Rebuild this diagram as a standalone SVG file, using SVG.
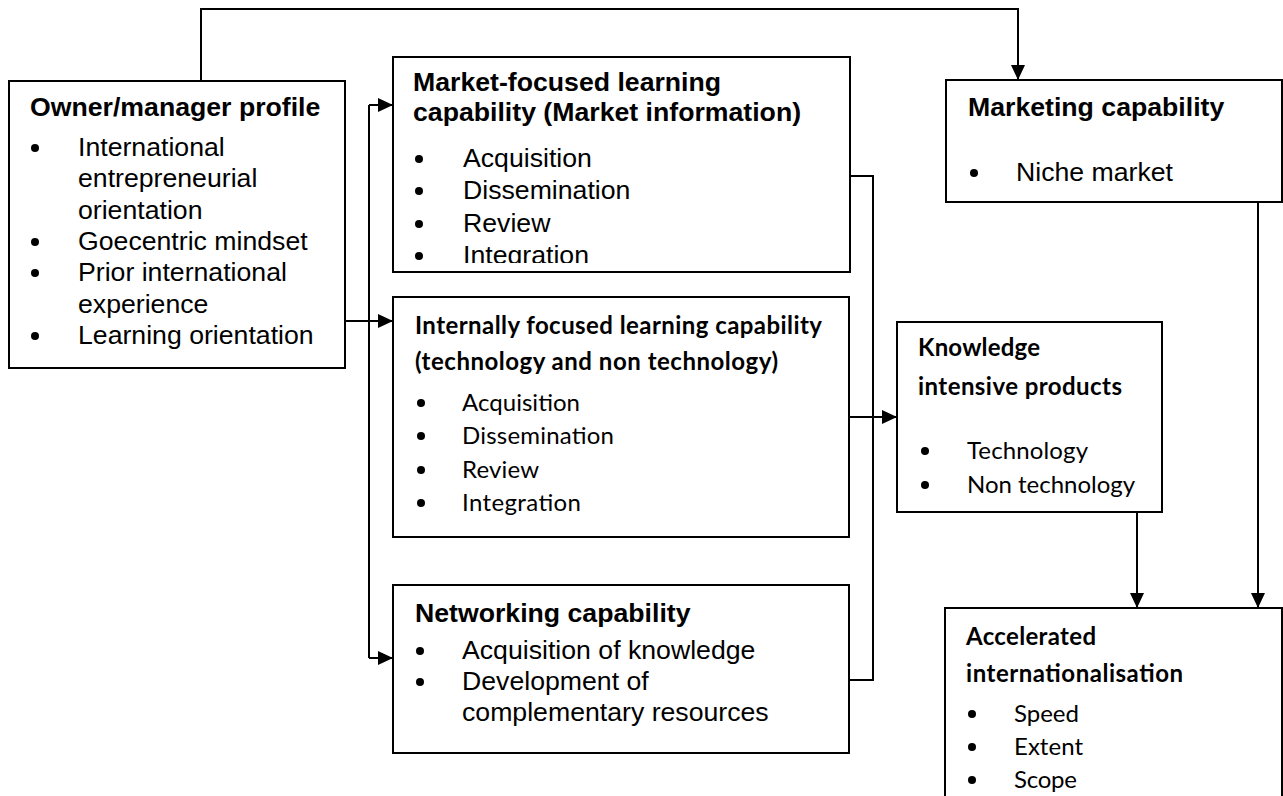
<svg xmlns="http://www.w3.org/2000/svg" width="1283" height="796" viewBox="0 0 1283 796">
  <style>
    .box { fill: #ffffff; stroke: #000000; stroke-width: 2; }
    .wire { fill: none; stroke: #000000; stroke-width: 2; }
    .ah { fill: none; stroke: #000000; stroke-width: 2; marker-end: url(#arrow); }
    .a { font-family: "Liberation Sans", Arial, sans-serif; font-size: 26.67px; fill: #000000; }
    .ab { font-family: "Liberation Sans", Arial, sans-serif; font-size: 26.67px; font-weight: bold; fill: #000000; }
    .c { font-family: Lato, "Open Sans", sans-serif; font-size: 24px; fill: #000000; }
    .cb { font-family: Lato, "Open Sans", sans-serif; font-size: 24px; font-weight: bold; fill: #000000; }
    .dot { fill: #000000; }
  </style>
  <defs>
    <marker id="arrow" markerUnits="userSpaceOnUse" markerWidth="15" markerHeight="14" refX="15" refY="7" orient="auto">
      <path d="M0,0 L15,7 L0,14 Z" fill="#000000"/>
    </marker>
    <clipPath id="marketClip">
      <rect x="393" y="57" width="457" height="206"/>
    </clipPath>
  </defs>

  <rect width="1283" height="796" fill="#ffffff"/>

  <!-- connectors -->
  <g id="connectors">
    <path class="ah" d="M201,81 V9 H1018 V80"/>
    <path class="wire" d="M369,105 V658"/>
    <path class="ah" d="M369,105 H393"/>
    <path class="ah" d="M345,321 H393"/>
    <path class="ah" d="M369,658 H393"/>
    <path class="wire" d="M850,176 H873 V680 H850"/>
    <path class="ah" d="M850,417 H897"/>
    <path class="ah" d="M1137,512 V608"/>
    <path class="ah" d="M1258,202 V608"/>
  </g>

  <!-- owner / manager profile -->
  <g id="owner">
    <rect class="box" x="9" y="81" width="336" height="287"/>
    <text class="ab" x="30" y="116">Owner/manager profile</text>
    <circle class="dot" cx="35" cy="148" r="4"/>
    <text class="a" x="78" y="156">International</text>
    <text class="a" x="78" y="187">entrepreneurial</text>
    <text class="a" x="78" y="219">orientation</text>
    <circle class="dot" cx="35" cy="242" r="4"/>
    <text class="a" x="78" y="250">Goecentric mindset</text>
    <circle class="dot" cx="35" cy="273" r="4"/>
    <text class="a" x="78" y="281">Prior international</text>
    <text class="a" x="78" y="313">experience</text>
    <circle class="dot" cx="35" cy="336" r="4"/>
    <text class="a" x="78" y="344">Learning orientation</text>
  </g>

  <!-- market-focused learning capability -->
  <g id="market-learning">
    <rect class="box" x="393" y="57" width="457" height="215"/>
    <g clip-path="url(#marketClip)">
      <text class="ab" x="413" y="91">Market-focused learning</text>
      <text class="ab" x="413" y="121">capability (Market information)</text>
      <circle class="dot" cx="419" cy="159" r="4"/>
      <text class="a" x="463" y="167">Acquisition</text>
      <circle class="dot" cx="419" cy="191" r="4"/>
      <text class="a" x="463" y="199">Dissemination</text>
      <circle class="dot" cx="419" cy="224" r="4"/>
      <text class="a" x="463" y="232">Review</text>
      <circle class="dot" cx="419" cy="256" r="4"/>
      <text class="a" x="463" y="264">Integration</text>
    </g>
  </g>

  <!-- internally focused learning capability -->
  <g id="internal-learning">
    <rect class="box" x="393" y="297" width="456" height="240"/>
    <text class="cb" x="415" y="334" textLength="407">Internally focused learning capability</text>
    <text class="cb" x="415" y="370" textLength="363">(technology and non technology)</text>
    <circle class="dot" cx="421" cy="403" r="4"/>
    <text class="c" x="462" y="411" textLength="118">Acquisition</text>
    <circle class="dot" cx="421" cy="436" r="4"/>
    <text class="c" x="462" y="444" textLength="152">Dissemination</text>
    <circle class="dot" cx="421" cy="470" r="4"/>
    <text class="c" x="462" y="478" textLength="77">Review</text>
    <circle class="dot" cx="421" cy="503" r="4"/>
    <text class="c" x="462" y="511" textLength="119">Integration</text>
  </g>

  <!-- networking capability -->
  <g id="networking">
    <rect class="box" x="393" y="585" width="456" height="168"/>
    <text class="ab" x="415" y="622">Networking capability</text>
    <circle class="dot" cx="420" cy="651" r="4"/>
    <text class="a" x="462" y="659">Acquisition of knowledge</text>
    <circle class="dot" cx="420" cy="682" r="4"/>
    <text class="a" x="462" y="690">Development of</text>
    <text class="a" x="462" y="721">complementary resources</text>
  </g>

  <!-- marketing capability -->
  <g id="marketing">
    <rect class="box" x="946" y="80" width="336" height="122"/>
    <text class="ab" x="968" y="116">Marketing capability</text>
    <circle class="dot" cx="974" cy="173" r="4"/>
    <text class="a" x="1016" y="181">Niche market</text>
  </g>

  <!-- knowledge intensive products -->
  <g id="knowledge">
    <rect class="box" x="897" y="322" width="265" height="190"/>
    <text class="cb" x="918" y="356" textLength="122">Knowledge</text>
    <text class="cb" x="918" y="395" textLength="204">intensive products</text>
    <circle class="dot" cx="925" cy="451" r="4"/>
    <text class="c" x="967" y="459" textLength="121">Technology</text>
    <circle class="dot" cx="925" cy="485" r="4"/>
    <text class="c" x="967" y="493" textLength="168">Non technology</text>
  </g>

  <!-- accelerated internationalisation -->
  <g id="accelerated">
    <rect class="box" x="945" y="608" width="337" height="200"/>
    <text class="cb" x="966" y="645" textLength="130">Accelerated</text>
    <text class="cb" x="966" y="682" textLength="217">internationalisation</text>
    <circle class="dot" cx="972" cy="714" r="4"/>
    <text class="c" x="1014" y="722" textLength="65">Speed</text>
    <circle class="dot" cx="972" cy="747" r="4"/>
    <text class="c" x="1014" y="755" textLength="69">Extent</text>
    <circle class="dot" cx="972" cy="780" r="4"/>
    <text class="c" x="1014" y="788" textLength="63">Scope</text>
  </g>
</svg>
